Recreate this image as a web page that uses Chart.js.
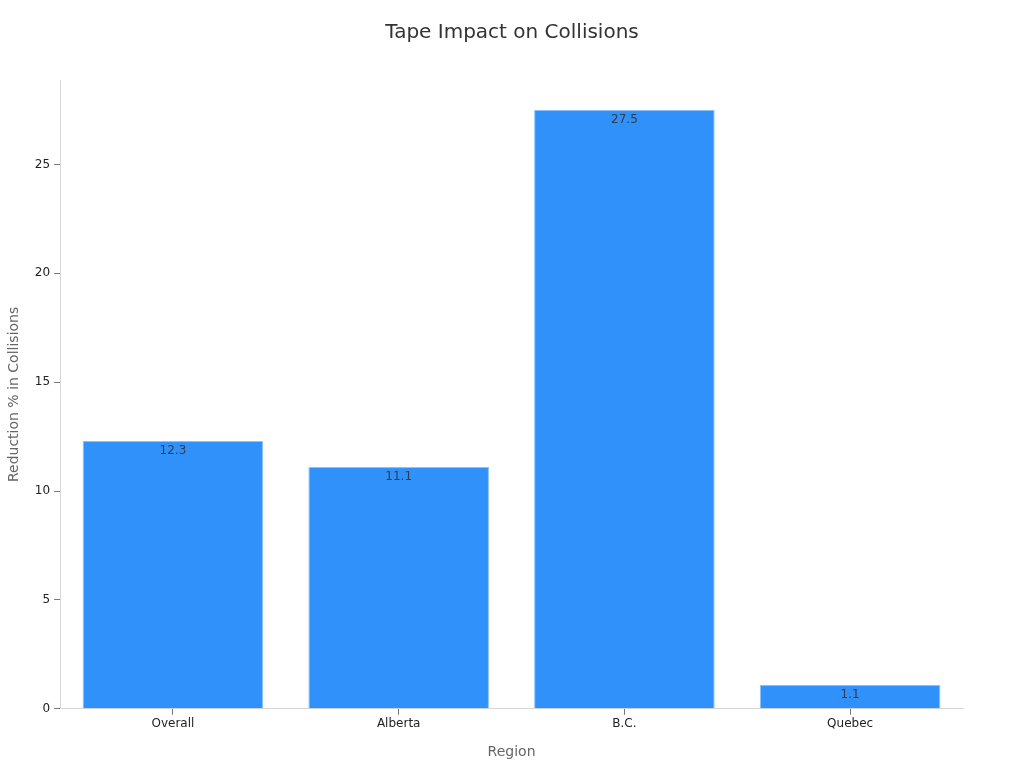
<!DOCTYPE html>
<html><head><meta charset="utf-8">
<script src="https://cdn.jsdelivr.net/npm/chart.js@4"></script>
<style>html,body{margin:0;padding:0;background:#fff}#wrap{width:1024px;height:768px}</style>
</head><body><div id="wrap"><canvas id="c" width="1024" height="768"></canvas></div>
<script>
const categories = ["Overall", "Alberta", "B.C.", "Quebec"];
const reductionValues = [12.3, 11.1, 27.5, 1.1];
const yTicks = [0, 5, 10, 15, 20, 25];
const chartTitle = 'Tape Impact on Collisions';

const labelPlugin = {
  id: 'barLabels',
  afterDatasetsDraw(chart) {
    const ctx = chart.ctx;
    const meta = chart.getDatasetMeta(0);
    ctx.save();
    ctx.font = '12px "DejaVu Sans", sans-serif';
    ctx.fillStyle = '#333d4b';
    ctx.textAlign = 'center';
    ctx.textBaseline = 'top';
    meta.data.forEach((bar, i) => {
      ctx.fillText(String(reductionValues[i]), bar.x, bar.y + 4);
    });
    ctx.restore();
  }
};
const titlePlugin = {
  id: 'centerTitle',
  afterDraw(chart) {
    const ctx = chart.ctx;
    ctx.save();
    ctx.font = '20px "DejaVu Sans", sans-serif';
    ctx.fillStyle = '#333333';
    ctx.textAlign = 'center';
    ctx.textBaseline = 'middle';
    ctx.fillText(chartTitle, chart.width / 2, 33);
    ctx.restore();
  }
};

new Chart(document.getElementById('c'), {
  type: 'bar',
  data: {
    labels: categories,
    datasets: [{
      data: reductionValues,
      backgroundColor: '#2f91f9',
      borderColor: '#8cc2fb',
      borderWidth: 1,
      categoryPercentage: 0.8,
      barPercentage: 1.0
    }]
  },
  options: {
    responsive: false,
    animation: false,
    layout: { padding: { left: 2, right: 61, top: 80, bottom: 3 } },
    plugins: {
      legend: { display: false },
      tooltip: { enabled: false },
      title: { display: false }
    },
    scales: {
      x: {
        grid: { display: true, offset: false, drawOnChartArea: false, drawTicks: true, tickLength: 6, tickColor: '#777' },
        border: { color: '#d6d6d6' },
        ticks: { color: '#222', font: { family: '"DejaVu Sans", sans-serif', size: 12 }, padding: 2 },
        title: { display: true, text: 'Region', color: '#666', font: { family: '"DejaVu Sans", sans-serif', size: 14 }, padding: { top: 11 } }
      },
      y: {
        min: 0,
        max: 28.875,
        afterBuildTicks(axis) { axis.ticks = yTicks.map(v => ({ value: v })); },
        grid: { display: true, drawOnChartArea: false, drawTicks: true, tickLength: 6, tickColor: '#777' },
        border: { color: '#d6d6d6' },
        ticks: { color: '#222', font: { family: '"DejaVu Sans", sans-serif', size: 12 }, padding: 4 },
        title: { display: true, text: 'Reduction % in Collisions', color: '#666', font: { family: '"DejaVu Sans", sans-serif', size: 14 }, padding: { bottom: 8 } }
      }
    }
  },
  plugins: [labelPlugin, titlePlugin]
});
</script></body></html>
